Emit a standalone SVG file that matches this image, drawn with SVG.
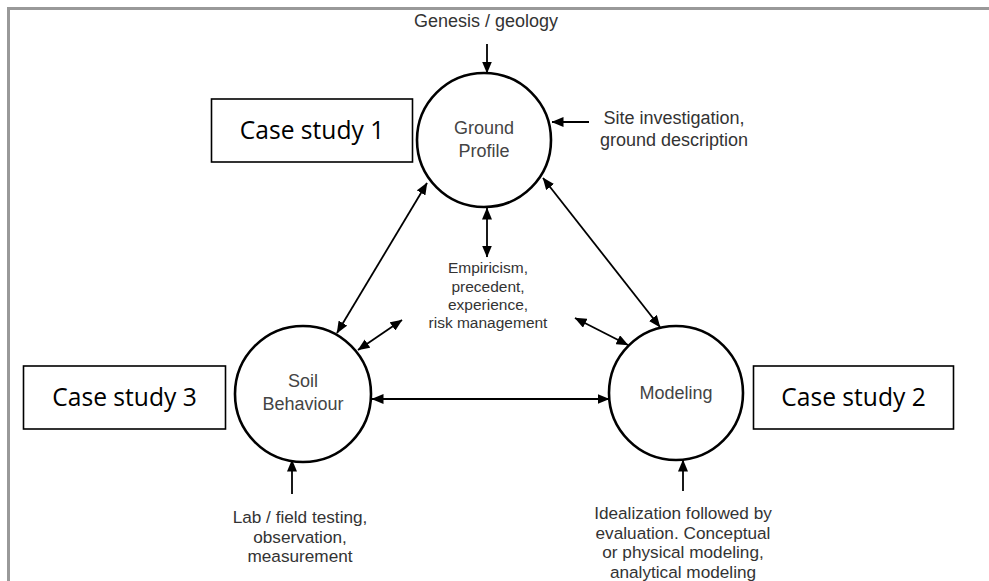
<svg xmlns="http://www.w3.org/2000/svg" width="989" height="581" viewBox="0 0 989 581">
<style>
.circ{fill:#fff;stroke:#000;stroke-width:2.6}
.box{fill:#fff;stroke:#000;stroke-width:1.6}
.lbl{font-family:"Liberation Sans",Arial,sans-serif;font-size:18px;fill:#444;text-anchor:middle}
.note{font-family:"Liberation Sans",Arial,sans-serif;font-size:18px;fill:#333;text-anchor:middle}
.bot{font-family:"Liberation Sans",Arial,sans-serif;font-size:17.2px;fill:#333;text-anchor:middle}
.small{font-family:"Liberation Sans",Arial,sans-serif;font-size:15.5px;fill:#333;text-anchor:middle}
.case{font-family:"Open Sans","Noto Sans",sans-serif;font-size:24.6px;fill:#000;text-anchor:middle}
.ln{stroke:#000;stroke-width:1.8;fill:none}
.one{marker-end:url(#ah)}
.two{marker-start:url(#ah);marker-end:url(#ah)}
</style>
<defs>
<marker id="ah" viewBox="0 0 12 10" refX="11.5" refY="5" markerWidth="12" markerHeight="10" markerUnits="userSpaceOnUse" orient="auto-start-reverse">
<path d="M0,0 L12,5 L0,10 z" fill="#000"/>
</marker>
</defs>
<rect width="989" height="581" fill="#fff"/>
<g id="frame">
<path d="M8.5,581 V8.5 H989" fill="none" stroke="#999" stroke-width="3"/>
</g>
<g id="connectors">
<line class="ln one" x1="487" y1="44" x2="487" y2="73"/>
<line class="ln one" x1="589" y1="122" x2="552" y2="122"/>
<line class="ln two" x1="487" y1="208" x2="487" y2="257"/>
<line class="ln two" x1="427" y1="183" x2="337" y2="333"/>
<line class="ln two" x1="543" y1="178" x2="660" y2="327"/>
<line class="ln two" x1="358" y1="350" x2="402" y2="320"/>
<line class="ln two" x1="575" y1="318" x2="628" y2="345"/>
<line class="ln two" x1="372" y1="399" x2="609" y2="399"/>
<line class="ln one" x1="292" y1="494" x2="292" y2="460"/>
<line class="ln one" x1="683" y1="491" x2="683" y2="460"/>
</g>
<g id="node-ground-profile">
<circle class="circ" cx="484" cy="140" r="67"/>
<text class="lbl" x="484" y="134">Ground</text>
<text class="lbl" x="484" y="157">Profile</text>
</g>
<g id="node-soil-behaviour">
<circle class="circ" cx="303" cy="394" r="68"/>
<text class="lbl" x="303" y="387">Soil</text>
<text class="lbl" x="303" y="410">Behaviour</text>
</g>
<g id="node-modeling">
<circle class="circ" cx="676" cy="393" r="67"/>
<text class="lbl" x="676" y="399">Modeling</text>
</g>
<g id="node-case-1">
<rect class="box" x="211.5" y="99" width="201" height="63"/>
<text class="case" x="312" y="139">Case study 1</text>
</g>
<g id="node-case-2">
<rect class="box" x="753.5" y="366" width="200" height="63"/>
<text class="case" x="853.5" y="406">Case study 2</text>
</g>
<g id="node-case-3">
<rect class="box" x="23.5" y="366" width="202" height="63"/>
<text class="case" x="124.5" y="406">Case study 3</text>
</g>
<g id="node-genesis">
<text class="note" x="486" y="27">Genesis / geology</text>
</g>
<g id="node-site">
<text class="note" x="674" y="124">Site investigation,</text>
<text class="note" x="674" y="146">ground description</text>
</g>
<g id="node-empiricism">
<text class="small" x="488" y="273">Empiricism,</text>
<text class="small" x="488" y="291.5">precedent,</text>
<text class="small" x="488" y="310">experience,</text>
<text class="small" x="488" y="328">risk management</text>
</g>
<g id="node-lab">
<text class="bot" x="300" y="523">Lab / field testing,</text>
<text class="bot" x="300" y="542.5">observation,</text>
<text class="bot" x="300" y="562">measurement</text>
</g>
<g id="node-idealization">
<text class="bot" x="683" y="519">Idealization followed by</text>
<text class="bot" x="683" y="538.5">evaluation. Conceptual</text>
<text class="bot" x="683" y="558">or physical modeling,</text>
<text class="bot" x="683" y="577.5">analytical modeling</text>
</g>
</svg>
